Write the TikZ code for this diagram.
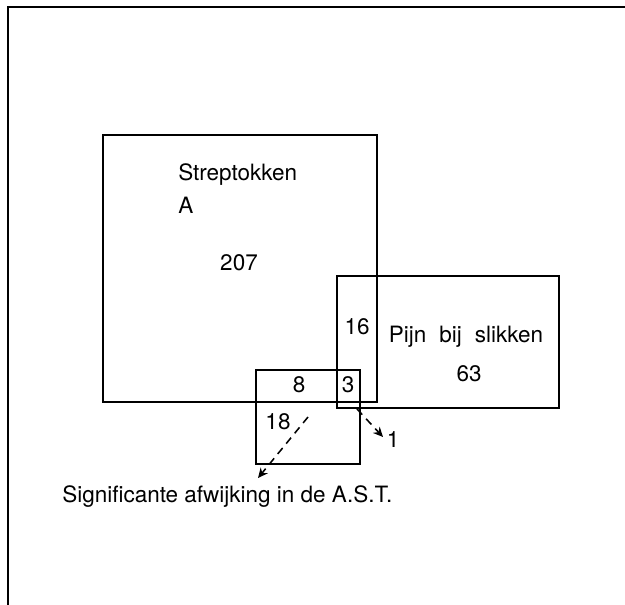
\documentclass[tikz,border=0pt]{standalone}
\usepackage{fontspec}
\setmainfont{TeX Gyre Heros}
\usetikzlibrary{arrows.meta,fit}

\begin{document}
\begin{tikzpicture}[
  x=1cm,
  y=1cm,
  frame line/.style={
    draw=black,
    line width=1.8pt,
    line cap=rect
  },
  set box/.style={
    draw=black,
    line width=1.4pt,
    inner sep=0pt
  },
  set label/.style={
    font=\fontsize{16}{19}\selectfont,
    inner sep=0pt
  },
  pointer/.style={
    draw=black,
    line width=1.1pt,
    dash pattern=on 5.5pt off 4pt,
    -{Stealth[length=7pt,width=6.5pt]}
  }
]

\useasboundingbox (0,0) rectangle (15.625,15.1);

% Open frame: only the top and left edges are on the page.
\coordinate (frame-bottom) at (0.2,0);
\coordinate (frame-corner) at (0.2,14.925);
\coordinate (frame-right) at (15.625,14.925);
\draw[frame line] (frame-bottom) -- (frame-corner) -- (frame-right);

% Named box corners, the boxes are fitted round them.
\foreach \boxname/\xmin/\ymin/\xmax/\ymax in {
  strep/2.575/5.05/9.425/11.725,
  pijn/8.425/4.9/13.975/8.2,
  ast/6.4/3.5/9.0/5.85
}{
  \coordinate (\boxname-sw) at (\xmin,\ymin);
  \coordinate (\boxname-ne) at (\xmax,\ymax);
}
\foreach \boxname in {strep,pijn,ast}{
  \node[set box, fit=(\boxname-sw)(\boxname-ne)] (\boxname) {};
}

% Streptokken A
\node[set label, anchor=west] (strep-name) at (4.45,10.725) {Streptokken};
\node[set label, anchor=west] (strep-letter) at (4.45,9.975) {A};
\node[set label] (strep-count) at (5.975,8.525) {207};

% Pijn bij slikken
\node[set label] (pijn-name) at (11.65,6.675) {Pijn\hspace{0.3em} bij\hspace{0.3em} slikken};
\node[set label] (pijn-count) at (11.725,5.75) {63};

% overlaps
\node[set label] (strep-pijn) at (8.925,6.925) {16};
\node[set label] (strep-ast) at (7.475,5.475) {8};
\node[set label] (all-three) at (8.7,5.475) {3};
\node[set label] (ast-only) at (6.95,4.55) {18};
\node[set label] (pijn-ast) at (9.825,4.1) {1};

% Significante afwijking in de A.S.T.
\node[set label, anchor=west] (ast-name) at (1.55,2.675) {Significante afwijking in de A.S.T.};

\coordinate (one-tail) at (8.925,4.875);
\coordinate (one-tip) at (9.575,4.175);
\draw[pointer] (one-tail) -- (one-tip);

\coordinate (ast-tail) at (7.7,4.675);
\coordinate (ast-tip) at (6.45,3.15);
\draw[pointer] (ast-tail) -- (ast-tip);

\end{tikzpicture}
\end{document}
